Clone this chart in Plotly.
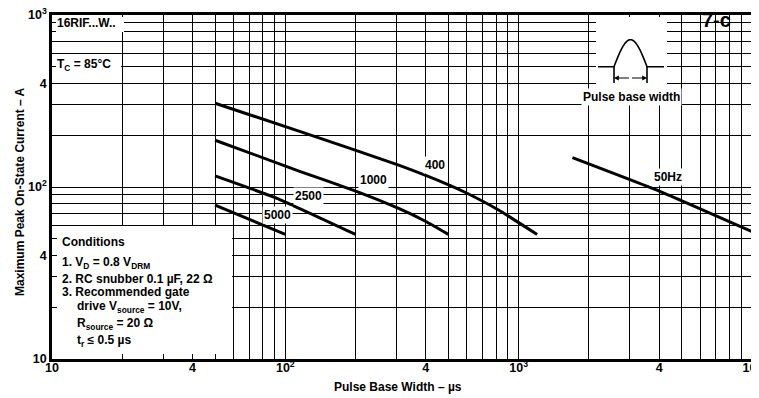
import numpy as np
import plotly.graph_objects as go

# Max peak on-state current (A) vs pulse base width (us), one curve per rep. rate
F400_X = [50, 116, 306, 501, 601, 820, 1200]
F400_Y = [307, 210, 134, 103, 92, 73.5, 53]
F1000_X = [50, 116, 203, 306, 400, 500]
F1000_Y = [187, 123, 94, 75, 63, 53]
F2500_X = [50, 92, 200]
F2500_Y = [116, 86, 53]
F5000_X = [50, 100]
F5000_Y = [78.5, 53]
F50_X = [1700, 4050, 10000]
F50_Y = [148, 94, 55]

CURVES = [
    ("400", F400_X, F400_Y),
    ("1000", F1000_X, F1000_Y),
    ("2500", F2500_X, F2500_Y),
    ("5000", F5000_X, F5000_Y),
    ("50Hz", F50_X, F50_Y),
]

X_DECADES = [10, 100, 1000]
Y_DECADES = [10, 100]
X_LABELS = {10: "10", 40: "4", 100: "10<sup>2</sup>", 400: "4",
            1000: "10<sup>3</sup>", 4000: "4", 10000: "10<sup>4</sup>"}
Y_LABELS = {10: "10", 40: "4", 100: "10<sup>2</sup>", 400: "4", 1000: "10<sup>3</sup>"}

FONT = "Liberation Sans"

# plot frame in screen pixels (used to place the decorations);
# the page body keeps its default 8px margin, so the figure is shrunk by that
W, H, OFF = 759, 398, 8
L, R, T, B = 52, 752, 15, 359


def px(x, y):
    return (x - L) / (R - L), (B - y) / (B - T)


def minor_vals(decades, labels):
    return [m * d for d in decades for m in range(1, 10) if m * d not in labels]


fig = go.Figure()
for name, xs, ys in CURVES:
    fig.add_trace(go.Scatter(
        x=xs, y=ys, mode="lines", name=name,
        line=dict(color="black", width=3, shape="spline", smoothing=0.4),
        showlegend=False, hoverinfo="skip",
    ))

axis_common = dict(
    type="log", automargin=False, ticklabeloverflow="allow",
    showgrid=True, gridcolor="black", gridwidth=1.4,
    showline=True, linecolor="black", linewidth=2.5, mirror=True,
    ticks="", zeroline=False, tickmode="array",
    tickfont=dict(family=FONT, size=12.5, color="black", weight="bold"),
)
fig.update_xaxes(
    range=[1, 4], tickvals=list(X_LABELS), ticktext=list(X_LABELS.values()),
    ticklabelstandoff=-5,
    minor=dict(tickvals=minor_vals(X_DECADES, X_LABELS), showgrid=True,
               gridcolor="black", gridwidth=1.4),
    **axis_common)
fig.update_yaxes(
    range=[1, 3], tickvals=list(Y_LABELS), ticktext=list(Y_LABELS.values()),
    minor=dict(tickvals=minor_vals(Y_DECADES, Y_LABELS), showgrid=True,
               gridcolor="black", gridwidth=1.4),
    **axis_common)

shapes = []


def white_box(x0, y0, x1, y1):
    a0, b0 = px(x0, y1)
    a1, b1 = px(x1, y0)
    shapes.append(dict(type="rect", xref="paper", yref="paper",
                       x0=a0, y0=b0, x1=a1, y1=b1, layer="above",
                       fillcolor="white", line=dict(width=0)))


# conditions panel, pulse sketch panel, top-left labels
# (kept clear of the frame so grid stubs remain as edge ticks)
white_box(57, 226, 232, 354)
white_box(596, 17, 667, 100)
white_box(56, 17, 124, 32)
white_box(56, 56, 121, 74)

# pulse sketch: half sine on a baseline
base_y, p0, p1, h = 66.7, 614, 647, 27
t = np.linspace(0, 1, 30)
pts = [(598, base_y), (p0, base_y)]
pts += [(p0 + (p1 - p0) * s, base_y - h * np.sin(np.pi * s)) for s in t]
pts += [(p1, base_y), (664, base_y)]
path = "M " + " L ".join(f"{px(a, b)[0]:.5f},{px(a, b)[1]:.5f}" for a, b in pts)
shapes.append(dict(type="path", path=path, xref="paper", yref="paper",
                   layer="above", line=dict(color="black", width=1.6)))
for xb in (p0, p1):
    a, b0 = px(xb, base_y)
    _, b1 = px(xb, 83)
    shapes.append(dict(type="line", xref="paper", yref="paper", x0=a, x1=a,
                       y0=b0, y1=b1, layer="above",
                       line=dict(color="black", width=1.6)))

annotations = []


def note(text, x, y, size=12, xanchor="center", bg=None, **kw):
    a, b = px(x, y)
    d = dict(text=text, x=a, y=b, xref="paper", yref="paper", showarrow=False,
             xanchor=xanchor, yanchor="middle",
             font=dict(family=FONT, size=size, color="black", weight="bold"), **kw)
    if bg:
        d.update(bgcolor=bg, borderpad=1)
    annotations.append(d)


# arrows for pulse base width
mid = (p0 + p1) / 2
for xe in (p0, p1):
    a, b = px(xe, 78)
    annotations.append(dict(x=a, y=b, xref="paper", yref="paper", text="",
                            showarrow=True, ax=mid - xe, ay=0, arrowhead=2,
                            arrowsize=0.8, arrowwidth=1.2, arrowcolor="black"))

note("16RIF...W..", 55, 23, xanchor="left")
note("T<sub>C</sub> = 85°C", 55, 65, xanchor="left")
note("Pulse base width", 631, 97, bg="white")

label_pos = {"400": (435, 165), "1000": (373, 180), "2500": (308, 196),
             "5000": (277, 215), "50Hz": (668, 177)}
for name, _, _ in CURVES:
    note(name, *label_pos[name], bg="white")

cond = [
    ("Conditions", 60, 242),
    ("1. V<sub>D</sub> = 0.8 V<sub>DRM</sub>", 60, 263),
    ("2. RC snubber 0.1 µF, 22 Ω", 60, 279),
    ("3. Recommended gate", 60, 292),
    ("drive V<sub>source</sub> = 10V,", 75, 307),
    ("R<sub>source</sub> = 20 Ω", 75, 324),
    ("t<sub>r</sub> ≤ 0.5 µs", 75, 341),
]
for text, x, y in cond:
    note(text, x, y, xanchor="left")

note("Pulse Base Width – µs", 398, 387)
note("Maximum Peak On-State Current – A", 20, 192, textangle=-90)
note("7-c", 700, 20, size=20, xanchor="left")

fig.update_layout(
    width=W - OFF, height=H - OFF,
    margin=dict(l=L - OFF, r=W - R, t=T - OFF, b=H - B),
    paper_bgcolor="white", plot_bgcolor="white",
    font=dict(family=FONT, color="black"),
    shapes=shapes, annotations=annotations,
)

fig.write_html("out.html")
